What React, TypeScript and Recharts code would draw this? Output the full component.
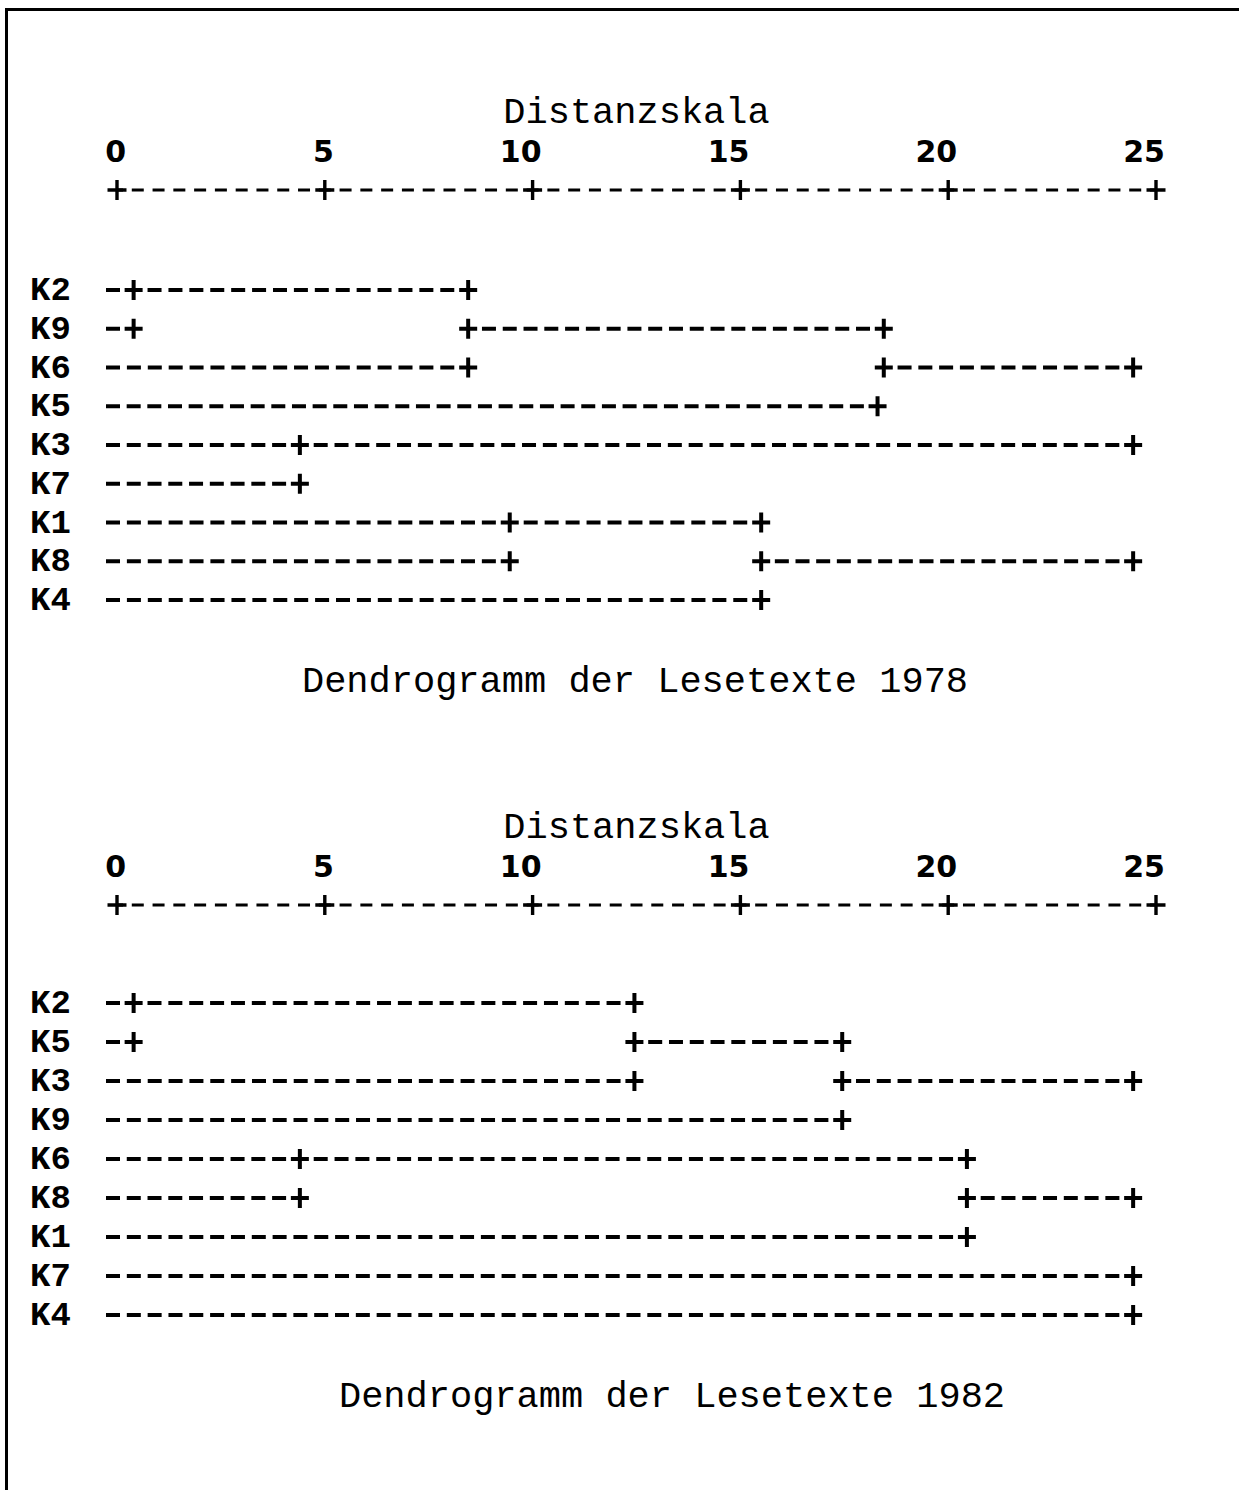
import React from "react";
import { ScatterChart, Scatter, XAxis, YAxis, ReferenceLine, Label } from "recharts";

// Distance scale ticks shared by both dendrograms
const distanceTicks = [0, 5, 10, 15, 20, 25];

// 1978: row order and the horizontal spans [from, to] drawn in each row
const rows1978 = ["K2", "K9", "K6", "K5", "K3", "K7", "K1", "K8", "K4"];
const spans1978: [number, number][][] = [
  [[0, 0.4], [0.4, 8.45]],
  [[0, 0.4], [8.45, 18.45]],
  [[0, 8.45], [18.45, 24.45]],
  [[0, 18.3]],
  [[0, 4.4], [4.4, 24.45]],
  [[0, 4.4]],
  [[0, 9.45], [9.45, 15.5]],
  [[0, 9.45], [15.5, 24.45]],
  [[0, 15.5]],
];

// 1982
const rows1982 = ["K2", "K5", "K3", "K9", "K6", "K8", "K1", "K7", "K4"];
const spans1982: [number, number][][] = [
  [[0, 0.4], [0.4, 12.45]],
  [[0, 0.4], [12.45, 17.45]],
  [[0, 12.45], [17.45, 24.45]],
  [[0, 17.45]],
  [[0, 4.4], [4.4, 20.45]],
  [[0, 4.4], [20.45, 24.45]],
  [[0, 20.45]],
  [[0, 24.45]],
  [[0, 24.45]],
];

const MONO = "'Liberation Mono', 'Courier New', monospace";
const SANS = "'DejaVu Sans', Verdana, sans-serif";
const PITCH = 20.78; // one character cell = half a distance unit
const AXIS_Y = 190;

function Plus({ x, y, w, h, sw }: { x: number; y: number; w: number; h: number; sw: number }) {
  return (
    <path
      d={`M${x - w / 2},${y}H${x + w / 2}M${x},${y - h / 2}V${y + h / 2}`}
      stroke="#000"
      strokeWidth={sw}
      fill="none"
    />
  );
}

// draws a run of "-" characters between two points given by the reference line
function dashRun(lead: boolean) {
  return (props: any) => {
    const { x1, y1, x2 } = props;
    const start = lead ? x1 - 4 : x1;
    const n = Math.max(1, Math.round((x2 - start) / PITCH));
    const step = (x2 - start) / n;
    const dashes = [];
    for (let i = lead ? 0 : 1; i < n; i++) {
      dashes.push(
        <rect key={i} x={start + i * step - 7} y={y1 - 2} width={14} height={4} fill="#000" />
      );
    }
    return <g>{dashes}</g>;
  };
}

function NodePlus(props: any) {
  return <Plus x={props.cx} y={props.cy} w={18} h={20} sw={4} />;
}

function AxisTick(props: any) {
  const { x, payload } = props;
  return (
    <g>
      <text x={x + 9} y={162} textAnchor="end" fontFamily={SANS} fontWeight="bold" fontSize={30} fill="#000">
        {payload.value}
      </text>
      <Plus x={x} y={AXIS_Y} w={19} h={20} sw={3.4} />
    </g>
  );
}

function TitleLabel(props: any) {
  const vb = props.viewBox || { x: 117, y: 130, width: 1039 };
  return (
    <text x={vb.x + vb.width / 2} y={vb.y - 7} textAnchor="middle" fontFamily={MONO} fontSize={37} fill="#000">
      Distanzskala
    </text>
  );
}

interface DendrogramProps {
  rows: string[];
  spans: [number, number][][];
  topPad: number;
  caption: string;
  captionCenter: number;
}

function Dendrogram({ rows, spans, topPad, caption, captionCenter }: DendrogramProps) {
  const seen = new Set<string>();
  const nodes: { x: number; y: number }[] = [];
  spans.forEach((row, r) =>
    row.forEach(([from, to]) => {
      [from, to].forEach((v) => {
        const key = `${r}:${v}`;
        if (v > 0 && !seen.has(key)) {
          seen.add(key);
          nodes.push({ x: v, y: r });
        }
      });
    })
  );

  return (
    <div style={{ position: "relative", width: 1239, height: 715 }}>
      <ScatterChart width={1239} height={715} margin={{ top: 130, right: 83, bottom: 115, left: 0 }}>
        <XAxis
          type="number"
          dataKey="x"
          domain={[0, 25]}
          ticks={distanceTicks}
          interval={0}
          orientation="top"
          height={60}
          tickLine={false}
          axisLine={{ stroke: "#000", strokeWidth: 3, strokeDasharray: "12 8.78", strokeDashoffset: 6 }}
          tick={<AxisTick />}
        >
          <Label content={TitleLabel} />
        </XAxis>
        <YAxis
          type="number"
          dataKey="y"
          domain={[0, rows.length - 1]}
          reversed
          ticks={rows.map((_, i) => i)}
          interval={0}
          width={117}
          padding={{ top: topPad, bottom: 0 }}
          axisLine={false}
          tickLine={false}
          tick={(p: any) => (
            <text x={30} y={p.y + 10} fontFamily={MONO} fontWeight="bold" fontSize={34} fill="#000">
              {rows[p.payload.value]}
            </text>
          )}
        />
        {spans.flatMap((row, r) =>
          row.map(([from, to], k) => (
            <ReferenceLine
              key={`${r}-${k}`}
              segment={[{ x: from, y: r }, { x: to, y: r }]}
              shape={dashRun(from === 0)}
            />
          ))
        )}
        <Scatter data={nodes} isAnimationActive={false} shape={NodePlus} />
      </ScatterChart>
      <svg width={1239} height={715} style={{ position: "absolute", left: 0, top: 0, pointerEvents: "none" }}>
        <text x={captionCenter} y={692} textAnchor="middle" fontFamily={MONO} fontSize={37} fill="#000">
          {caption}
        </text>
      </svg>
    </div>
  );
}

export default function App() {
  return (
    <div style={{ position: "absolute", left: 0, top: 0, width: 1239, height: 1490, overflow: "hidden", background: "#fff" }}>
      <div
        style={{
          position: "absolute",
          left: 5,
          top: 8,
          width: 1400,
          height: 1700,
          borderTop: "3px solid #000",
          borderLeft: "3px solid #000",
        }}
      />
      <div style={{ position: "absolute", left: 0, top: 0 }}>
        <Dendrogram rows={rows1978} spans={spans1978} topPad={100} caption="Dendrogramm der Lesetexte 1978" captionCenter={635} />
      </div>
      <div style={{ position: "absolute", left: 0, top: 715 }}>
        <Dendrogram rows={rows1982} spans={spans1982} topPad={98} caption="Dendrogramm der Lesetexte 1982" captionCenter={672} />
      </div>
    </div>
  );
}
